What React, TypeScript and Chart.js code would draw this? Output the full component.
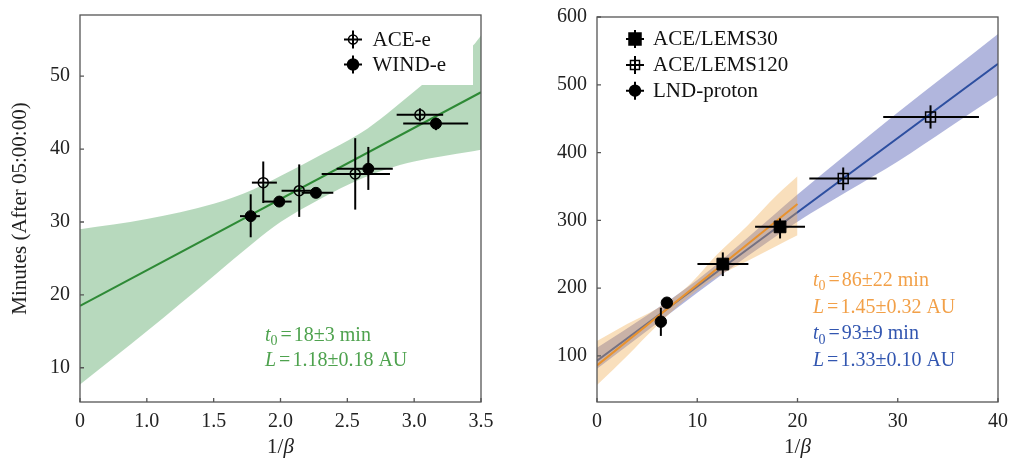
import React, { useEffect, useRef } from "react";
import { Chart, registerables } from "chart.js";

Chart.register(...registerables);

const FONT = '"Liberation Serif", "Times New Roman", Times, serif';

// ---------------- Left panel data ----------------
const leftXTicks = [0.5, 1.0, 1.5, 2.0, 2.5, 3.0, 3.5];
const leftXTickLabels = ["0", "1.0", "1.5", "2.0", "2.5", "3.0", "3.5"];
const leftYTicks = [10, 20, 30, 40, 50];

const aceX = [1.871, 2.14, 2.559, 3.043];
const aceY = [35.4, 34.3, 36.6, 44.7];
const aceXLo = [1.786, 2.008, 2.308, 2.869];
const aceXHi = [1.973, 2.245, 2.819, 3.217];
const aceYLo = [32.6, 30.7, 31.7, 43.8];
const aceYHi = [38.3, 37.9, 41.5, 45.6];

const windX = [1.777, 1.991, 2.265, 2.657, 3.163];
const windY = [30.8, 32.8, 34.0, 37.3, 43.5];
const windXLo = [1.697, 1.871, 2.158, 2.42, 2.918];
const windXHi = [1.846, 2.083, 2.395, 2.84, 3.404];
const windYLo = [27.9, 32.3, 33.4, 34.4, 42.6];
const windYHi = [33.8, 33.3, 34.6, 40.3, 44.3];

const greenFitX = [0.5, 3.5];
const greenFitY = [18.5, 47.8];
const greenBandX = [0.5, 1.0, 1.5, 1.8, 2.0, 2.3, 2.6, 2.8, 3.0, 3.2, 3.44, 3.5];
const greenBandHi = [29.0, 30.4, 32.5, 34.5, 36.3, 39.2, 42.2, 44.9, 47.9, 51.0, 54.2, 55.6];
const greenBandLo = [7.7, 15.0, 22.6, 27.2, 30.0, 33.2, 35.9, 37.3, 38.3, 39.0, 39.7, 39.9];

const leftLabels = ["ACE-e", "WIND-e"];
const leftNote1 = "18±3 min";
const leftNote2 = "1.18±0.18 AU";

// ---------------- Right panel data ----------------
const rightXTicks = [0, 10, 20, 30, 40];
const rightYTicks = [100, 200, 300, 400, 500, 600];

const lems30X = [12.55, 18.26];
const lems30Y = [235.5, 290.4];
const lems30XLo = [10.02, 15.77];
const lems30XHi = [15.1, 20.75];
const lems30YLo = [217.8, 273.3];
const lems30YHi = [252.7, 302.8];

const lems120X = [24.56, 33.27];
const lems120Y = [361.7, 452.4];
const lems120XLo = [21.18, 28.55];
const lems120XHi = [27.9, 38.1];
const lems120YLo = [344.5, 435.4];
const lems120YHi = [378.0, 469.7];

const lndX = [6.97, 6.37];
const lndY = [178.5, 150.5];
const lndYLo = [178.5, 129.5];
const lndYHi = [178.5, 171.0];

const blueFitX = [0, 40];
const blueFitY = [93, 531];
const blueBandX = [0, 5, 10, 15, 20, 25, 30, 35, 40];
const blueBandHi = [112, 160, 212, 274, 338, 399, 459, 517, 575];
const blueBandLo = [81, 137, 193, 247, 298, 343, 387, 436, 485];

const orangeFitX = [0, 20];
const orangeFitY = [86, 324];
const orangeBandX = [0, 3, 6, 9, 12, 15, 18, 20];
const orangeBandHi = [122, 147, 170, 202, 250, 292, 338, 365];
const orangeBandLo = [57, 100, 145, 185, 217, 240, 263, 278];

const rightLabels = ["ACE/LEMS30", "ACE/LEMS120", "LND-proton"];
const orangeNote1 = "86±22 min";
const orangeNote2 = "1.45±0.32 AU";
const blueNote1 = "93±9 min";
const blueNote2 = "1.33±0.10 AU";

// ---------------- helpers ----------------
const pts = (xs: number[], ys: number[]) => xs.map((x, i) => ({ x, y: ys[i] }));
const pairs = (lo: number[], hi: number[]) => lo.map((l, i) => [l, hi[i]]);

const GREEN_LINE = "#2e8a36";
const GREEN_BAND = "rgba(76,160,90,0.40)";
const GREEN_TEXT = "#4ea24e";
const BLUE_LINE = "#2d4fa0";
const BLUE_BAND = "rgba(70,80,175,0.42)";
const BLUE_TEXT = "#3256b0";
const ORANGE_LINE = "#e8922e";
const ORANGE_BAND = "rgba(240,170,80,0.38)";
const ORANGE_TEXT = "#f2a048";

function bandSets(xs: number[], lo: number[], hi: number[], color: string, order: number) {
  const common = { borderColor: "transparent", borderWidth: 0, pointRadius: 0, cubicInterpolationMode: "monotone", order };
  return [
    { type: "line", data: pts(xs, lo), fill: false, ...common },
    { type: "line", data: pts(xs, hi), fill: "-1", backgroundColor: color, ...common },
  ];
}

function lineSet(xs: number[], ys: number[], color: string, order: number) {
  return { type: "line", data: pts(xs, ys), borderColor: color, borderWidth: 2, pointRadius: 0, fill: false, order };
}

function pointSet(label: string, data: any[], style: string, radius: number, filled: boolean, order: number, errX: any, errY: any) {
  return {
    type: "line",
    label,
    data,
    showLine: false,
    pointStyle: style,
    pointRadius: radius,
    pointBackgroundColor: filled ? "#000" : "rgba(0,0,0,0)",
    pointBorderColor: "#000",
    pointBorderWidth: filled ? 1 : 1.5,
    order,
    errX,
    errY,
  };
}

type Part = { t: string; it?: boolean; sub?: boolean; pre?: number };
function drawRich(ctx: CanvasRenderingContext2D, x: number, y: number, parts: Part[], color: string, size = 20) {
  ctx.save();
  ctx.fillStyle = color;
  ctx.textBaseline = "alphabetic";
  ctx.textAlign = "left";
  let cx = x;
  for (const p of parts) {
    cx += p.pre || 0;
    const fs = p.sub ? Math.round(size * 0.7) : size;
    ctx.font = `${p.it ? "italic " : ""}${fs}px ${FONT}`;
    ctx.fillText(p.t, cx, y + (p.sub ? size * 0.22 : 0));
    cx += ctx.measureText(p.t).width;
  }
  ctx.restore();
}

function tLine(v: string): Part[] {
  return [{ t: "t", it: true }, { t: "0", sub: true }, { t: "=", pre: 3 }, { t: v, pre: 2 }];
}
function lLine(v: string): Part[] {
  return [{ t: "L", it: true }, { t: "=", pre: 3 }, { t: v, pre: 2 }];
}

function drawMarker(ctx: CanvasRenderingContext2D, kind: string, x: number, y: number, r: number) {
  ctx.save();
  ctx.strokeStyle = "#000";
  ctx.fillStyle = "#000";
  ctx.lineWidth = 1.5;
  ctx.beginPath();
  if (kind === "circle" || kind === "circleOpen") {
    ctx.arc(x, y, r, 0, Math.PI * 2);
  } else {
    ctx.rect(x - r, y - r, 2 * r, 2 * r);
  }
  if (kind === "circle" || kind === "rect") ctx.fill();
  ctx.stroke();
  ctx.restore();
}

const errorBarPlugin = {
  id: "errorBars",
  beforeDatasetDraw(chart: any, args: any) {
    const ds: any = chart.data.datasets[args.index];
    if (!ds.errX && !ds.errY) return;
    const { ctx } = chart;
    const xs = chart.scales.x;
    const ys = chart.scales.y;
    ctx.save();
    ctx.strokeStyle = "#000";
    ctx.lineWidth = 2;
    ds.data.forEach((p: any, i: number) => {
      const px = xs.getPixelForValue(p.x);
      const py = ys.getPixelForValue(p.y);
      if (ds.errX) {
        const [lo, hi] = ds.errX[i];
        if (hi > lo) {
          ctx.beginPath();
          ctx.moveTo(xs.getPixelForValue(lo), py);
          ctx.lineTo(xs.getPixelForValue(hi), py);
          ctx.stroke();
        }
      }
      if (ds.errY) {
        const [lo, hi] = ds.errY[i];
        if (hi > lo) {
          ctx.beginPath();
          ctx.moveTo(px, ys.getPixelForValue(lo));
          ctx.lineTo(px, ys.getPixelForValue(hi));
          ctx.stroke();
        }
      }
    });
    ctx.restore();
  },
};

function makeDecor(cfg: any) {
  return {
    id: "decor",
    afterDatasetsDraw(chart: any) {
      const { ctx, chartArea } = chart;
      const { left, right, top, bottom } = chartArea;
      const xs = chart.scales.x;
      const ys = chart.scales.y;
      // legend
      if (cfg.legendBox) {
        const b = cfg.legendBox;
        ctx.save();
        ctx.fillStyle = "#fff";
        ctx.fillRect(b.x, top, b.r - b.x, b.b - top);
        ctx.restore();
      }
      cfg.legend.forEach((it: any) => {
        ctx.save();
        ctx.strokeStyle = "#000";
        ctx.lineWidth = 2;
        ctx.beginPath();
        ctx.moveTo(it.mx - 9, it.my);
        ctx.lineTo(it.mx + 9, it.my);
        ctx.moveTo(it.mx, it.my - 9);
        ctx.lineTo(it.mx, it.my + 9);
        ctx.stroke();
        ctx.restore();
        drawMarker(ctx, it.kind, it.mx, it.my, it.r);
        ctx.save();
        ctx.fillStyle = "#111";
        ctx.font = `21px ${FONT}`;
        ctx.textBaseline = "alphabetic";
        ctx.fillText(it.label, it.tx, it.ty);
        ctx.restore();
      });
      // notes
      cfg.notes.forEach((n: any) => drawRich(ctx, n.x, n.y, n.parts, n.color));
      // frame
      ctx.save();
      ctx.strokeStyle = "#555";
      ctx.lineWidth = 1.3;
      ctx.strokeRect(left, top, right - left, bottom - top);
      ctx.beginPath();
      cfg.xTicks.forEach((v: number) => {
        const p = xs.getPixelForValue(v);
        ctx.moveTo(p, bottom);
        ctx.lineTo(p, bottom - 4);
      });
      cfg.yTicks.forEach((v: number) => {
        const p = ys.getPixelForValue(v);
        ctx.moveTo(left, p);
        ctx.lineTo(left + 4, p);
      });
      ctx.stroke();
      ctx.restore();
      // x title "1/β"
      const cx = (left + right) / 2;
      ctx.save();
      ctx.fillStyle = "#222";
      ctx.textBaseline = "middle";
      ctx.font = `21px ${FONT}`;
      const w1 = ctx.measureText("1/").width;
      ctx.font = `italic 21px ${FONT}`;
      const w2 = ctx.measureText("β").width;
      const sx = cx - (w1 + w2) / 2;
      ctx.font = `21px ${FONT}`;
      ctx.fillText("1/", sx, 447);
      ctx.font = `italic 21px ${FONT}`;
      ctx.fillText("β", sx + w1, 447);
      ctx.restore();
    },
  };
}

function zeroPad(s: any) {
  s.paddingLeft = 0;
  s.paddingRight = 0;
  s.paddingTop = 0;
  s.paddingBottom = 0;
}

function makeOptions(o: any) {
  return {
    responsive: false,
    maintainAspectRatio: false,
    animation: false,
    devicePixelRatio: 1,
    layout: { padding: { top: o.padTop, right: o.padRight, left: 0, bottom: 0 } },
    plugins: { legend: { display: false }, tooltip: { enabled: false }, title: { display: false } },
    scales: {
      x: {
        type: "linear",
        min: o.xMin,
        max: o.xMax,
        grid: { display: false, drawTicks: false },
        border: { display: false },
        afterBuildTicks: (s: any) => {
          s.ticks = o.xTicks.map((v: number) => ({ value: v }));
        },
        afterFit: (s: any) => {
          s.height = o.xHeight;
          zeroPad(s);
        },
        ticks: {
          padding: 8,
          autoSkip: false,
          maxRotation: 0,
          color: "#222",
          font: { family: FONT, size: 20 },
          callback: (v: any, i: number) => (o.xTickLabels ? o.xTickLabels[i] : String(v)),
        },
      },
      y: {
        type: "linear",
        min: o.yMin,
        max: o.yMax,
        grid: { display: false, drawTicks: false },
        border: { display: false },
        afterBuildTicks: (s: any) => {
          s.ticks = o.yTicks.map((v: number) => ({ value: v }));
        },
        afterFit: (s: any) => {
          s.width = o.yWidth;
          zeroPad(s);
        },
        ticks: {
          padding: 10,
          color: "#222",
          font: { family: FONT, size: 20 },
          callback: (v: any) => String(v),
        },
        title: o.yTitle
          ? { display: true, text: o.yTitle, color: "#222", font: { family: FONT, size: 21 }, padding: { top: 8, bottom: 0 } }
          : { display: false },
      },
    },
  };
}

export default function App() {
  const leftRef = useRef<HTMLCanvasElement>(null);
  const rightRef = useRef<HTMLCanvasElement>(null);

  useEffect(() => {
    const leftChart = new Chart(leftRef.current as HTMLCanvasElement, {
      type: "line",
      data: {
        datasets: [
          ...bandSets(greenBandX, greenBandLo, greenBandHi, GREEN_BAND, 5),
          lineSet(greenFitX, greenFitY, GREEN_LINE, 4),
          pointSet(leftLabels[0], pts(aceX, aceY), "circle", 5, false, 1, pairs(aceXLo, aceXHi), pairs(aceYLo, aceYHi)),
          pointSet(leftLabels[1], pts(windX, windY), "circle", 5.5, true, 0, pairs(windXLo, windXHi), pairs(windYLo, windYHi)),
        ] as any,
      },
      options: makeOptions({
        padTop: 15,
        padRight: 19,
        xMin: 0.5,
        xMax: 3.5,
        yMin: 5.3,
        yMax: 58.4,
        xTicks: leftXTicks,
        xTickLabels: leftXTickLabels,
        yTicks: leftYTicks,
        xHeight: 59,
        yWidth: 80,
        yTitle: "Minutes (After 05:00:00)",
      }) as any,
      plugins: [
        errorBarPlugin,
        makeDecor({
          legendBox: { x: 334, r: 473, b: 85 },
          legend: [
            { kind: "circleOpen", r: 4.5, mx: 353, my: 39.5, label: leftLabels[0], tx: 372.5, ty: 45.5 },
            { kind: "circle", r: 5.5, mx: 353, my: 64.5, label: leftLabels[1], tx: 372.5, ty: 70.5 },
          ],
          notes: [
            { x: 265, y: 341, parts: tLine(leftNote1), color: GREEN_TEXT },
            { x: 265, y: 366, parts: lLine(leftNote2), color: GREEN_TEXT },
          ],
          xTicks: leftXTicks,
          yTicks: leftYTicks,
        }),
      ] as any,
    });

    const rightChart = new Chart(rightRef.current as HTMLCanvasElement, {
      type: "line",
      data: {
        datasets: [
          ...bandSets(blueBandX, blueBandLo, blueBandHi, BLUE_BAND, 7),
          lineSet(blueFitX, blueFitY, BLUE_LINE, 6),
          ...bandSets(orangeBandX, orangeBandLo, orangeBandHi, ORANGE_BAND, 5),
          lineSet(orangeFitX, orangeFitY, ORANGE_LINE, 4),
          pointSet(rightLabels[0], pts(lems30X, lems30Y), "rect", 8.3, true, 2, pairs(lems30XLo, lems30XHi), pairs(lems30YLo, lems30YHi)),
          pointSet(rightLabels[1], pts(lems120X, lems120Y), "rect", 7, false, 1, pairs(lems120XLo, lems120XHi), pairs(lems120YLo, lems120YHi)),
          pointSet(rightLabels[2], pts(lndX, lndY), "circle", 5.7, true, 0, null, pairs(lndYLo, lndYHi)),
        ] as any,
      },
      options: makeOptions({
        padTop: 17,
        padRight: 11,
        xMin: 0,
        xMax: 40,
        yMin: 32,
        yMax: 600,
        xTicks: rightXTicks,
        yTicks: rightYTicks,
        xHeight: 59,
        yWidth: 97,
      }) as any,
      plugins: [
        errorBarPlugin,
        makeDecor({
          legend: [
            { kind: "rect", r: 6, mx: 635, my: 39, label: rightLabels[0], tx: 653, ty: 45 },
            { kind: "rectOpen", r: 4.5, mx: 635, my: 65, label: rightLabels[1], tx: 653, ty: 70.7 },
            { kind: "circle", r: 5.5, mx: 635, my: 90.7, label: rightLabels[2], tx: 653, ty: 96.7 },
          ].map((it) => ({ ...it, mx: it.mx - 500, tx: it.tx - 500 })),
          notes: [
            { x: 313, y: 286, parts: tLine(orangeNote1), color: ORANGE_TEXT },
            { x: 313, y: 312.7, parts: lLine(orangeNote2), color: ORANGE_TEXT },
            { x: 313, y: 339.3, parts: tLine(blueNote1), color: BLUE_TEXT },
            { x: 313, y: 366, parts: lLine(blueNote2), color: BLUE_TEXT },
          ],
          xTicks: rightXTicks,
          yTicks: rightYTicks,
        }),
      ] as any,
    });

    return () => {
      leftChart.destroy();
      rightChart.destroy();
    };
  }, []);

  return (
    <div style={{ position: "absolute", left: 0, top: 0, width: 1009, height: 461, background: "#fff" }}>
      <canvas ref={leftRef} width={500} height={461} style={{ position: "absolute", left: 0, top: 0, width: 500, height: 461 }} />
      <canvas ref={rightRef} width={509} height={461} style={{ position: "absolute", left: 500, top: 0, width: 509, height: 461 }} />
    </div>
  );
}
